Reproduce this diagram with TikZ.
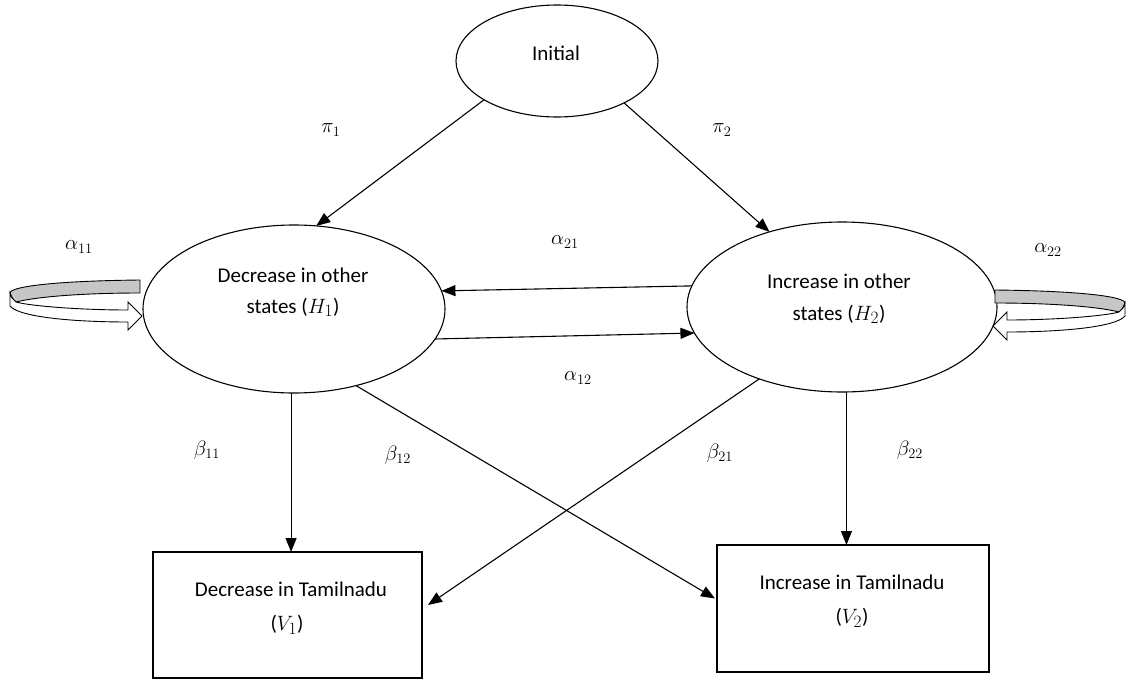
\documentclass[tikz,border=0pt]{standalone}
\usepackage{fontspec}
\setmainfont{Carlito}
\DeclareMathSizes{20}{20}{15}{12}
\DeclareMathSizes{21}{21}{16}{12}
\usetikzlibrary{arrows.meta,shapes.geometric}
\begin{document}
\begin{tikzpicture}[x=1pt,y=-1pt,
  every node/.style={font=\fontsize{21}{31}\selectfont},
  ell/.style={draw,ellipse,line width=1.1pt,inner sep=0pt,outer sep=0pt},
  box/.style={draw,rectangle,line width=1.1pt,inner sep=0pt,outer sep=0pt},
  txt/.style={inner sep=0pt,anchor=base},
  lab/.style={inner sep=0pt,font=\fontsize{20}{24}\selectfont},
  arr/.style={line width=1.1pt,-{Triangle[length=14pt,width=11pt]}},
  loopribbon/.pic={
    \filldraw[fill=gray!45,line width=0.9pt]
      (-2,-36) .. controls (-92,-35) and (-132,-29) .. (-132,-23)
      .. controls (-130,-18) and (-128,-15) .. (-126,-14)
      .. controls (-102,-20) and (-52,-23) .. (-2,-23) -- cycle;
    \filldraw[fill=white,line width=0.9pt]
      (-132,-23) -- (-132,-10) .. controls (-122,2) and (-62,6) .. (-14,6)
      -- (-14,14) -- (0,0) -- (-14,-14) -- (-14,-6)
      .. controls (-62,-6) and (-112,-10) .. (-126,-14)
      .. controls (-129,-16) and (-131,-19) .. (-132,-23) -- cycle;
  }]
\useasboundingbox (0,0) rectangle (1128,680);

% nodes
\node[ell,minimum width=202pt,minimum height=112pt] (init) at (557,61) {};
\node[txt] (initt) at (556,60) {Initial};

\node[ell,minimum width=302pt,minimum height=168pt] (h1) at (294,309) {};
\node[txt] (h1a) at (293,282) {Decrease in other};
\node[txt] (h1b) at (293,313) {states ($H_1$)};

\node[ell,minimum width=310pt,minimum height=170pt] (h2) at (842,307) {};
\node[txt] (h2a) at (839,288) {Increase in other};
\node[txt] (h2b) at (839,320) {states ($H_2$)};

\node[box,minimum width=269pt,minimum height=126pt] (v1) at (287.5,615) {};
\node[txt] (v1a) at (291,596) {Decrease in Tamilnadu};
\node[txt] (v1b) at (287,630) {($V_1$)};

\node[box,minimum width=272pt,minimum height=127pt] (v2) at (853,608.5) {};
\node[txt] (v2a) at (852,589) {Increase in Tamilnadu};
\node[txt] (v2b) at (852,623) {($V_2$)};

% self loops
\pic at (142,316) {loopribbon};
\pic[xscale=-1] at (993,326) {loopribbon};

% connectors
\draw[arr] (init.208) -- (h1.75);
\draw[arr] (init.328) -- (h2.134);
\draw[arr] (h2.172) -- (h1.7);
\draw[arr] (h1.348) -- (h2.190);
\draw[arr] (h1.268) -- (h1.268 |- v1.north);
\draw[arr] (h1.309) -- ([xshift=-2pt,yshift=10pt]v2.west);
\draw[arr] (h2.221) -- ([xshift=6pt,yshift=10pt]v1.east);
\draw[arr] (h2.273) -- (h2.273 |- v2.north);

% labels
\node[lab] (pi1) at (331,130) {$\pi_1$};
\node[lab] (pi2) at (722,130) {$\pi_2$};
\node[lab] (a11) at (79,247) {$\alpha_{11}$};
\node[lab] (a22) at (1048,250) {$\alpha_{22}$};
\node[lab] (a21) at (565,242) {$\alpha_{21}$};
\node[lab] (a12) at (578,378) {$\alpha_{12}$};
\node[lab] (b11) at (207,450) {$\beta_{11}$};
\node[lab] (b12) at (398,455) {$\beta_{12}$};
\node[lab] (b21) at (720,453) {$\beta_{21}$};
\node[lab] (b22) at (910,450) {$\beta_{22}$};
\end{tikzpicture}
\end{document}
